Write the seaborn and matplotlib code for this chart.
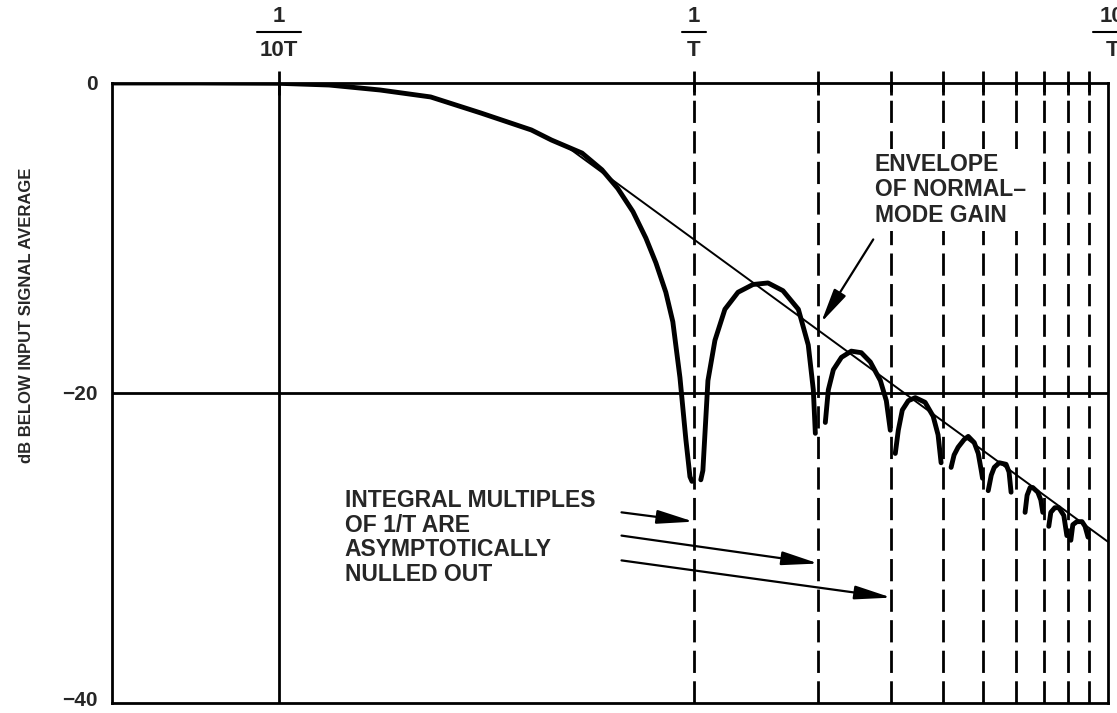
import seaborn as sns
import matplotlib.pyplot as plt
from matplotlib.ticker import NullLocator
from matplotlib.transforms import ScaledTranslation
import pandas as pd

# frequency in units of 1/T, gain in dB
main_f = [0.0395, 0.064, 0.1, 0.132, 0.175, 0.232, 0.307, 0.406, 0.454, 0.538,
          0.601, 0.656, 0.714, 0.767, 0.811, 0.857, 0.891, 0.927, 0.958, 0.98, 0.991]
main_db = [0.0, 0.0, -0.02, -0.13, -0.45, -0.9, -1.94, -3.03, -3.68, -4.52,
           -5.6, -6.8, -8.3, -10.0, -11.6, -13.5, -15.4, -19.0, -23.0, -25.4, -25.7]

side_f = [
    [1.041, 1.053, 1.083, 1.126, 1.19, 1.28, 1.391, 1.512, 1.643, 1.79, 1.891, 1.945, 1.967],
    [2.079, 2.114, 2.174, 2.274, 2.402, 2.539, 2.67, 2.823, 2.918, 2.983],
    [3.067, 3.119, 3.189, 3.297, 3.428, 3.619, 3.785, 3.89, 3.956],
    [4.182, 4.252, 4.348, 4.497, 4.6, 4.756, 4.863, 4.945, 4.98],
    [5.14, 5.228, 5.315, 5.465, 5.676, 5.771, 5.836],
    [6.308, 6.379, 6.486, 6.584, 6.77, 6.884, 6.961],
    [7.196, 7.278, 7.442, 7.61, 7.823, 7.956],
    [8.134, 8.224, 8.41, 8.656, 8.802, 8.95],
]
side_db = [
    [-25.6, -25.0, -19.2, -16.6, -14.6, -13.5, -13.0, -12.9, -13.4, -14.6, -16.9, -19.8, -22.6],
    [-21.9, -19.8, -18.5, -17.7, -17.3, -17.4, -18.0, -19.2, -20.5, -22.4],
    [-23.9, -22.4, -21.1, -20.5, -20.3, -20.6, -21.5, -22.7, -24.5],
    [-24.8, -24.0, -23.5, -23.0, -22.8, -23.2, -23.9, -25.0, -25.5],
    [-26.3, -25.3, -24.8, -24.5, -24.6, -25.1, -26.4],
    [-27.7, -26.6, -26.1, -26.1, -26.4, -26.9, -27.7],
    [-28.6, -27.7, -27.4, -27.4, -27.9, -29.2],
    [-29.5, -28.5, -28.3, -28.3, -28.6, -29.3],
]

env_f = [0.5, 10.0]
env_db = [-4.2, -29.6]

multiples = [1, 2, 3, 4, 5, 6, 7, 8, 9]
y_ticks = [0, -20, -40]
y_labels = ["0", "\u221220", "\u221240"]
top_ticks = [0.1, 1, 10]
top_num = ["1", "1", "10"]
top_den = ["10T", "T", "T"]

rows = []
for i, (f, d) in enumerate(zip([main_f] + side_f, [main_db] + side_db)):
    for a, b in zip(f, d):
        rows.append({"f": a, "db": b, "lobe": i})
df = pd.DataFrame(rows)

sns.set_style("white")
plt.rcParams["font.family"] = ["Liberation Sans", "DejaVu Sans"]
plt.rcParams["font.weight"] = "bold"

W, H = 1117, 713
fig = plt.figure(figsize=(W / 100, H / 100), dpi=100)
ax = fig.add_axes([112 / W, 1 - 703 / H, (1108 - 112) / W, (703 - 83) / H])

sns.lineplot(data=df, x="f", y="db", units="lobe", estimator=None, sort=False,
             color="black", lw=3.5, ax=ax, legend=False,
             solid_joinstyle="round", solid_capstyle="round")
ax.plot(env_f, env_db, color="black", lw=1.4)

for m in multiples:
    ax.axvline(m, color="black", lw=2, dashes=(8, 3))
ax.axvline(0.1, color="black", lw=2)
ax.axhline(-20, color="black", lw=2)

ax.set_xscale("log")
ax.set_xlim(0.0395, 10)
ax.set_ylim(-40, 0)
ax.set_xlabel("")
ax.set_ylabel("")
ax.set_xticks([0.1] + multiples)
ax.xaxis.set_minor_locator(NullLocator())
ax.tick_params(axis="x", which="both", bottom=False, top=True, labelbottom=False,
               labeltop=False, direction="inout", length=17, width=2, color="black")
ax.set_yticks(y_ticks)
ax.set_yticklabels(y_labels)
ax.tick_params(axis="y", length=0, pad=10, labelsize=15)
for s in ax.spines.values():
    s.set_linewidth(2)
    s.set_color("black")

# keep the bottom label inside the canvas
lab = ax.get_yticklabels()[-1]
lab.set_transform(lab.get_transform() + ScaledTranslation(0, 3 / 72, fig.dpi_scale_trans))

# fraction labels along the top
tr = ax.get_xaxis_transform()
half = [0.053, 0.029, 0.046]
for f, n, d, h in zip(top_ticks, top_num, top_den, half):
    xc = f * 1.023 if f == 10 else f
    ax.text(xc, 1.108, n, transform=tr, ha="center", va="center", fontsize=16, clip_on=False)
    ax.text(xc, 1.052, d, transform=tr, ha="center", va="center", fontsize=16, clip_on=False)
    ax.plot([xc * 10 ** -h, xc * 10 ** h], [1.082, 1.082], transform=tr, color="black",
            lw=1.5, clip_on=False)

fig.text(27 / W, 1 - 315 / H, "dB BELOW INPUT SIGNAL AVERAGE", rotation=90,
         ha="center", va="center", fontsize=12, weight="bold")

ax.text(2.736, -4.5, "ENVELOPE\nOF NORMAL\u2013\nMODE GAIN", ha="left", va="top",
        fontsize=16.5, linespacing=1.15, zorder=5,
        bbox=dict(facecolor="white", edgecolor="none", pad=3))
ax.annotate("", xy=(2.015, -15.6), xytext=(2.736, -9.94),
            arrowprops=dict(arrowstyle="-|>,head_length=1.5,head_width=0.3",
                            color="black", lw=1.6, mutation_scale=14))

ax.text(0.144, -26.2, "INTEGRAL MULTIPLES\nOF 1/T ARE\nASYMPTOTICALLY\nNULLED OUT",
        ha="left", va="top", fontsize=16.5, linespacing=1.09)
arrow_tail = [(0.67, -27.7), (0.67, -29.2), (0.67, -30.8)]
arrow_head = [(1.0, -28.3), (2.0, -31.0), (3.0, -33.2)]
for t, h in zip(arrow_tail, arrow_head):
    ax.annotate("", xy=h, xytext=t,
                arrowprops=dict(arrowstyle="-|>,head_length=1.6,head_width=0.3",
                                color="black", lw=1.6, mutation_scale=14,
                                shrinkA=0, shrinkB=0))

fig.savefig("out.png", dpi=100)
